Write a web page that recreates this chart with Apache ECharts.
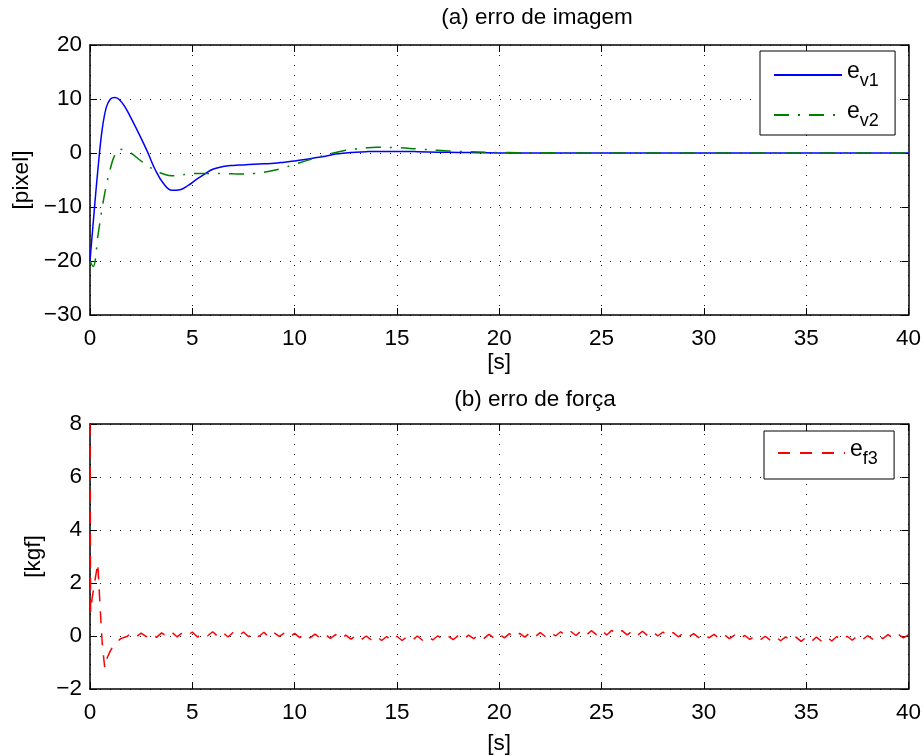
<!DOCTYPE html>
<html>
<head>
<meta charset="utf-8">
<script src="https://cdn.jsdelivr.net/npm/echarts@6/dist/echarts.min.js"></script>
<style>
html,body{margin:0;padding:0;background:#fff;}
#c{width:924px;height:756px;}
</style>
</head>
<body>
<div id="c"></div>
<script>
// ---- Data ----
var xTicksTop = [0, 5, 10, 15, 20, 25, 30, 35, 40];
var yTicksTop = [-30, -20, -10, 0, 10, 20];
var yTicksBottom = [-2, 0, 2, 4, 6, 8];

var tA = [0,0.2,0.4,0.6,0.8,1.0,1.2,1.4,1.7,2.0,2.4,2.8,3.2,3.6,4.0,4.4,4.8,5.2,5.6,6.0,6.5,7,7.5,8,8.5,9,9.5,10,10.5,11,11.5,12,12.5,13,13.5,14,15,16,17,18,19,20,22,25,30,35,40];
var ev1 = [-20,-11,-2.5,4.5,8.5,10,10.3,10,8.6,6.5,3.5,0.3,-3.2,-5.7,-6.9,-6.8,-6.0,-4.9,-3.9,-3.0,-2.5,-2.3,-2.2,-2.1,-2.0,-1.9,-1.7,-1.5,-1.2,-0.9,-0.6,-0.2,0.0,0.15,0.25,0.3,0.3,0.25,0.15,0.1,0.05,0,0,0,0,0,0];

var tB = [0,0.15,0.4,0.6,0.8,1.0,1.2,1.45,1.7,2.0,2.4,2.8,3.2,3.6,4.0,4.4,4.8,5.2,5.6,6.0,6.5,7,7.5,8,8.5,9,9.5,10,10.5,11,11.5,12,12.5,13,13.5,14,15,16,17,18,19,20,22,25,30,35,40];
var ev2 = [-20,-21,-15,-10,-6,-2.8,-0.5,0.7,0.5,0,-1.2,-2.3,-3.3,-3.9,-4.2,-4.1,-3.9,-3.8,-3.8,-3.8,-3.8,-3.85,-3.9,-3.8,-3.55,-3.2,-2.7,-2.1,-1.5,-0.9,-0.4,0.1,0.5,0.75,0.95,1.05,1.0,0.75,0.5,0.3,0.2,0.1,0.05,0,0,0,0];

// force error: initial transient
var tF0 = [0,0.03,0.1,0.2,0.38,0.5,0.6,0.72,0.85,1.0,1.2,1.5,1.8];
var ef3Start = [8,0.9,1.4,1.9,2.75,1.0,-0.3,-1.2,-0.8,-0.55,-0.3,-0.1,-0.02];
// force error: noisy part, sampled every 0.25 s from t = 2.0 to 40.0
var ef3Noise = [
 0.09,-0.04,0.11,-0.02,0.10,-0.05,0.12,-0.01,
 0.14,-0.03,0.12,0.00,0.15,-0.04,0.11,0.01,
 0.16,-0.02,0.13,-0.04,0.14,-0.01,0.15,-0.03,
 0.13,-0.02,0.14,-0.05,0.12,-0.01,0.11,-0.05,
 0.10,-0.06,0.09,-0.07,0.07,-0.08,0.06,-0.09,
 0.05,-0.11,0.03,-0.12,0.02,-0.14,0.00,-0.15,
 -0.01,-0.17,-0.02,-0.18,-0.01,-0.17,-0.03,-0.16,
 0.00,-0.16,-0.01,-0.15,0.01,-0.13,0.00,-0.14,
 0.02,-0.12,0.03,-0.10,0.05,-0.09,0.06,-0.08,
 0.07,-0.07,0.09,-0.05,0.10,-0.04,0.12,-0.03,
 0.13,-0.02,0.14,0.00,0.16,0.01,0.17,0.02,
 0.19,0.03,0.20,0.05,0.22,0.04,0.21,0.06,
 0.20,0.04,0.19,0.02,0.18,0.01,0.16,0.00,
 0.15,-0.01,0.13,-0.03,0.11,-0.04,0.09,-0.06,
 0.08,-0.07,0.06,-0.09,0.05,-0.10,0.03,-0.12,
 0.02,-0.13,0.00,-0.15,-0.01,-0.16,-0.02,-0.18,
 -0.03,-0.19,-0.04,-0.20,-0.05,-0.21,-0.04,-0.20,
 -0.03,-0.19,-0.02,-0.17,-0.01,-0.16,0.00,-0.14,
 0.01,-0.12,0.03,-0.10,0.05,-0.08,0.07,-0.07,
 0.04
];
var noiseStart = 2.0, noiseStep = 0.25;

// ---- Build series pairs ----
function pairs(t, v){ var out=[]; for(var i=0;i<t.length;i++) out.push([t[i], v[i]]); return out; }
var d1 = pairs(tA, ev1);
var d2 = pairs(tB, ev2);
var d3 = pairs(tF0, ef3Start);
for (var k=0;k<ef3Noise.length;k++) d3.push([noiseStart + k*noiseStep, ef3Noise[k]]);

var FONT = 'Liberation Sans, Arial, Helvetica, sans-serif';
var FS = 22.5;
function minus(v){ return String(v).replace('-', '\u2212'); }
var gridLine = {show:true, lineStyle:{color:'#000', type:[1,9], width:1, opacity:0.9}};
var axLine = {show:true, onZero:false, lineStyle:{color:'#000', width:1.5}};
var tick = {show:true, inside:true, length:7, lineStyle:{color:'#000', width:1}};
var lab = {show:true, color:'#000', fontSize:FS, fontFamily:FONT, formatter:minus};

function xMain(gi, nameGap){
  return {type:'value', gridIndex:gi, min:0, max:40, interval:5, position:'bottom',
    axisLine:axLine, axisTick:tick, axisLabel:Object.assign({margin:12}, lab), splitLine:gridLine,
    name:'[s]', nameLocation:'middle', nameGap:nameGap,
    nameTextStyle:{color:'#000', fontSize:FS, fontFamily:FONT}};
}
function xTop(gi){
  return {type:'value', gridIndex:gi, min:0, max:40, interval:5, position:'top',
    axisLine:axLine, axisTick:tick, axisLabel:{show:false}, splitLine:{show:false}};
}
function yMain(gi, mn, mx, iv, name, nameGap){
  return {type:'value', gridIndex:gi, min:mn, max:mx, interval:iv, position:'left',
    axisLine:axLine, axisTick:tick, axisLabel:Object.assign({margin:8}, lab), splitLine:gridLine,
    name:name, nameLocation:'middle', nameGap:nameGap, nameRotate:90,
    nameTextStyle:{color:'#000', fontSize:FS, fontFamily:FONT}};
}
function yRight(gi, mn, mx, iv){
  return {type:'value', gridIndex:gi, min:mn, max:mx, interval:iv, position:'right',
    axisLine:axLine, axisTick:tick, axisLabel:{show:false}, splitLine:{show:false}};
}

var rich = {
  e:{fontSize:23, fontFamily:FONT, color:'#000', lineHeight:16, verticalAlign:'top'},
  s:{fontSize:18, fontFamily:FONT, color:'#000', lineHeight:14, verticalAlign:'bottom'},
  h:{fontSize:1, lineHeight:30, verticalAlign:'middle'}
};
var subs = {'ev1':'v1','ev2':'v2','ef3':'f3'};
function legFmt(n){ return '{e|e}{s|'+subs[n]+'}{h| }'; }

var option = {
  animation:false,
  backgroundColor:'#fff',
  grid:[
    {left:90, top:45, width:820, height:270},
    {left:90, top:424, width:820, height:268}
  ],
  xAxis:[xMain(0, 22), xTop(0), xMain(1, 43), xTop(1)],
  yAxis:[yMain(0, -30, 20, 10, '[pixel]', 50), yRight(0, -30, 20, 10),
         yMain(1, -2, 8, 2, '[kgf]', 36), yRight(1, -2, 8, 2)],
  legend:[
    {data:['ev1','ev2'], orient:'vertical', left:760, top:51, itemWidth:68, itemHeight:10, itemGap:10,
     itemStyle:{opacity:0}, padding:[9,16,5,13], borderColor:'#000', borderWidth:1, backgroundColor:'#fff',
     formatter:legFmt, textStyle:{rich:rich}},
    {data:['ef3'], orient:'vertical', left:764, top:431, itemWidth:67, itemHeight:10, itemGap:10,
     itemStyle:{opacity:0}, padding:[7,16,11,13], borderColor:'#000', borderWidth:1, backgroundColor:'#fff',
     formatter:legFmt, textStyle:{rich:rich}}
  ],
  graphic:[
    {type:'text', x:537, y:18, style:{text:'(a) erro de imagem', fill:'#000', font:FS+'px '+FONT, textAlign:'center', textVerticalAlign:'middle'}},
    {type:'text', x:535, y:400, style:{text:'(b) erro de força', fill:'#000', font:FS+'px '+FONT, textAlign:'center', textVerticalAlign:'middle'}}
  ],
  series:[
    {name:'ev1', type:'line', xAxisIndex:0, yAxisIndex:0, data:d1, smooth:0.4, symbol:'none',
     lineStyle:{color:'#0000ff', width:1.5}, itemStyle:{color:'#0000ff'}},
    {name:'ev2', type:'line', xAxisIndex:0, yAxisIndex:0, data:d2, smooth:0.4, symbol:'none',
     lineStyle:{color:'#008000', width:1.5, type:[15,9,2,9]}, itemStyle:{color:'#008000'}},
    {name:'ef3', type:'line', xAxisIndex:2, yAxisIndex:2, data:d3, symbol:'none',
     lineStyle:{color:'#ff0000', width:1.5, type:[12,10]}, itemStyle:{color:'#ff0000'}}
  ]
};
var chart = echarts.init(document.getElementById('c'), null, {renderer:'canvas'});
chart.setOption(option);
</script>
</body>
</html>
